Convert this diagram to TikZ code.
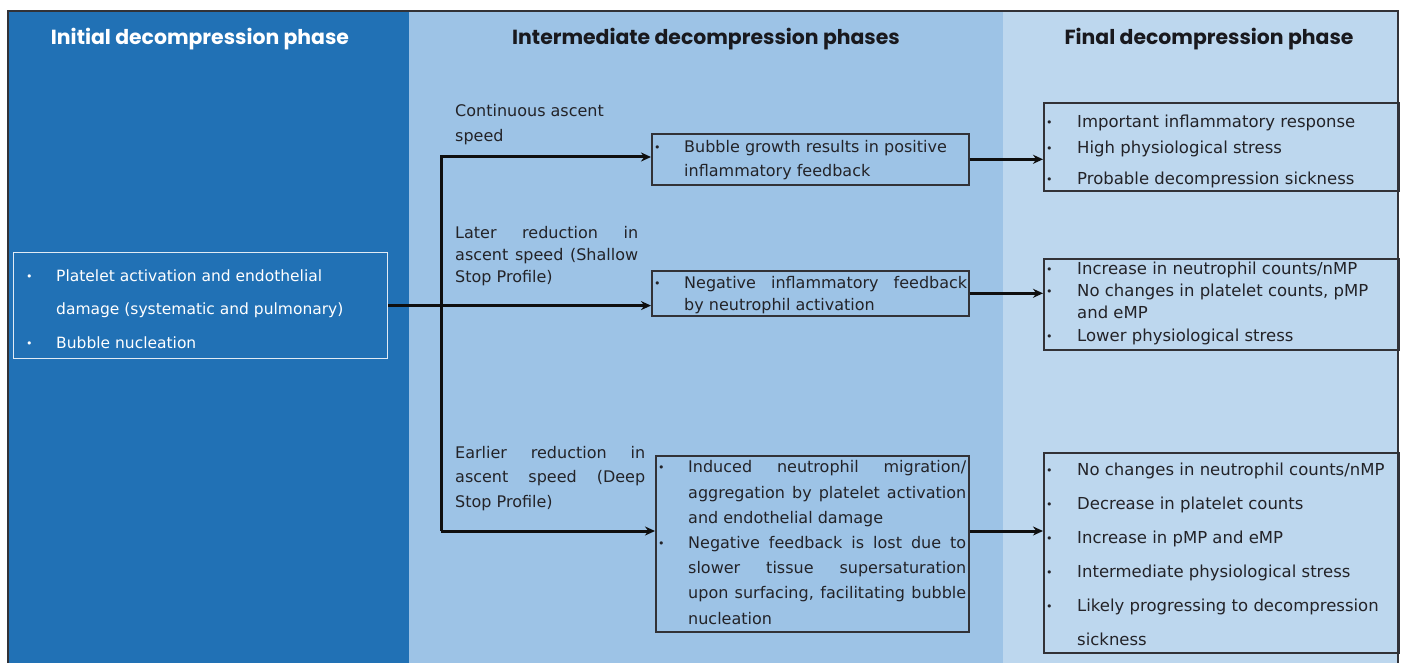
\documentclass[tikz,border=0pt]{standalone}
\usepackage{fontspec}
\setmainfont{DejaVu Sans}
\newfontfamily\hfont{Poppins}
\usetikzlibrary{arrows.meta}
\definecolor{cA}{RGB}{33,113,181}
\definecolor{cB}{RGB}{157,195,230}
\definecolor{cC}{RGB}{189,215,238}
\definecolor{cBd}{RGB}{50,50,55}
\definecolor{cTx}{RGB}{35,35,40}
\definecolor{cHd}{RGB}{25,25,30}
\definecolor{cLn}{RGB}{15,15,15}
\definecolor{cWb}{RGB}{225,235,245}
\newcommand\bu[1]{\makebox[#1pt][l]{{\fontsize{11}{11}\selectfont\raisebox{1pt}{•}}}}
\newcommand\js[2]{\makebox[#1pt][s]{#2}}
\begin{document}
\begin{tikzpicture}[x=1pt,y=-1pt,
 fbox/.style={draw=cBd, line width=1.6pt, anchor=north west, inner sep=0pt},
 arr/.style={line width=3pt, -{Stealth[length=10pt,width=9pt]}, draw=cLn, line join=miter},
 hd/.style={font=\hfont\bfseries\fontsize{20.4}{20.4}\selectfont, anchor=base},
 tx/.style={anchor=base west, align=left, inner sep=0pt, text=cTx},
]
\useasboundingbox (0,0) rectangle (1410,663);
\fill[cA] (8,11) rectangle (409,663);
\fill[cB] (409,11) rectangle (1003,663);
\fill[cC] (1003,11) rectangle (1398,663);
\draw[line width=1.2pt, cBd] (8,663) -- (8,11) -- (1398,11) -- (1398,663);

\node[hd, text=white] (h1) at (200,45) {Initial decompression phase};
\node[hd, text=cHd] (h2) at (706,45) {Intermediate decompression phases};
\node[hd, text=cHd] (h3) at (1209,45) {Final decompression phase};

% left box
\node[draw=cWb, line width=1.2pt, anchor=north west, minimum width=374pt, minimum height=106pt, inner sep=0pt] (a) at (13,252) {};
\node[tx, text=white, font=\fontsize{15.5}{33.5}\selectfont] (ta) at (26,348) {\bu{30}Platelet activation and endothelial\\ \hspace*{30pt}damage (systematic and pulmonary)\\ \bu{30}Bubble nucleation};

% intermediate boxes
\node[fbox, minimum width=317pt, minimum height=51pt] (b1) at (651,133) {};
\node[fbox, minimum width=317pt, minimum height=45pt] (b2) at (651,270) {};
\node[fbox, minimum width=313pt, minimum height=176pt] (b3) at (655,455) {};

\node[tx, font=\fontsize{16}{24}\selectfont] (t1) at (654,177) {\bu{30}Bubble growth results in positive\\ \hspace*{30pt}inflammatory feedback};
\node[tx, font=\fontsize{16}{22}\selectfont] (t2) at (654,310) {\bu{30}\js{283}{Negative inflammatory feedback}\\ \hspace*{30pt}by neutrophil activation};
\node[tx, font=\fontsize{16}{25.2}\selectfont] (t3) at (658,624) {\bu{30}\js{278}{Induced neutrophil migration/}\\ \hspace*{30pt}\js{278}{aggregation by platelet activation}\\ \hspace*{30pt}and endothelial damage\\ \bu{30}\js{278}{Negative feedback is lost due to}\\ \hspace*{30pt}\js{278}{slower tissue supersaturation}\\ \hspace*{30pt}\js{278}{upon surfacing, facilitating bubble}\\ \hspace*{30pt}nucleation};

% path labels
\node[tx, font=\fontsize{16}{25}\selectfont] (l1) at (455,142) {Continuous ascent\\speed};
\node[tx, font=\fontsize{16}{22}\selectfont] (l2) at (455,282) {\js{183}{Later reduction in}\\ \js{183}{ascent speed (Shallow}\\ Stop Profile)};
\node[tx, font=\fontsize{16}{24.5}\selectfont] (l3) at (455,507) {\js{190}{Earlier reduction in}\\ \js{190}{ascent speed (Deep}\\ Stop Profile)};

% final boxes
\node[fbox, minimum width=355pt, minimum height=88pt] (c1) at (1043,102) {};
\node[fbox, minimum width=355pt, minimum height=91pt] (c2) at (1043,258) {};
\node[fbox, minimum width=355pt, minimum height=200pt] (c3) at (1043,452) {};

\node[tx, font=\fontsize{16.5}{26}\selectfont] (f1) at (1046,185) {\bu{31}Important inflammatory response\\ \bu{31}High physiological stress\\[5pt] \bu{31}Probable decompression sickness};
\node[tx, font=\fontsize{16.5}{22.3}\selectfont] (f2) at (1046,341) {\bu{31}Increase in neutrophil counts/nMP\\ \bu{31}No changes in platelet counts, pMP\\ \hspace*{31pt}and eMP\\ \bu{31}Lower physiological stress};
\node[tx, font=\fontsize{16.5}{34}\selectfont] (f3) at (1046,645) {\bu{31}No changes in neutrophil counts/nMP\\ \bu{31}Decrease in platelet counts\\ \bu{31}Increase in pMP and eMP\\ \bu{31}Intermediate physiological stress\\ \bu{31}Likely progressing to decompression\\ \hspace*{31pt}sickness};

% connectors
\coordinate (j1) at (441,157);
\coordinate (j2) at (441,531);
\draw[arr] (j2) -- (j1) -- (j1 -| b1.west);
\draw[arr] (j2) -- (j2 -| b3.west);
\draw[arr] (a.east) -- (a.east -| b2.west);
\draw[arr] (b1.east) -- (b1.east -| c1.west);
\draw[arr] (b2.east) -- (b2.east -| c2.west);
\draw[arr] (j2 -| b3.east) -- (j2 -| c3.west);
\end{tikzpicture}
\end{document}
